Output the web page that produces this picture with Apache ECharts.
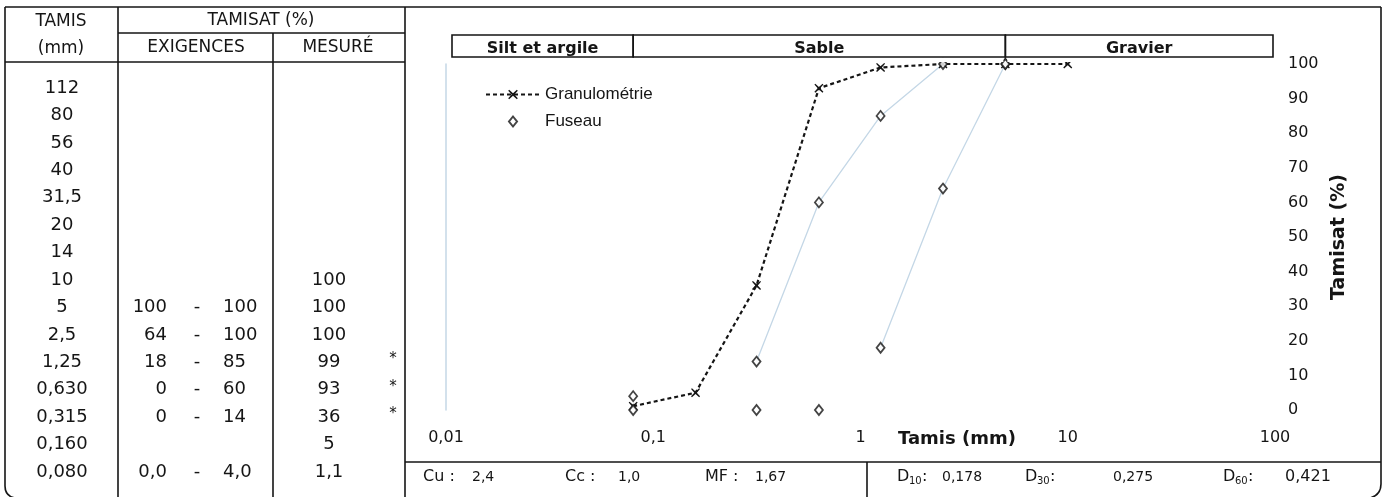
<!DOCTYPE html>
<html>
<head>
<meta charset="utf-8">
<script src="https://cdn.jsdelivr.net/npm/echarts@6/dist/echarts.min.js"></script>
<style>
html,body{margin:0;padding:0;background:#fff;}
#c{width:1384px;height:497px;}
</style>
</head>
<body>
<div id="c"></div>
<script>
// ---------- DATA ----------
const tamisLabels = ['112','80','56','40','31,5','20','14','10','5','2,5','1,25','0,630','0,315','0,160','0,080'];
const exigMin     = ['','','','','','','','','100','64','18','0','0','','0,0'];
const exigMax     = ['','','','','','','','','100','100','85','60','14','','4,0'];
const mesure      = ['','','','','','','','100','100','100','99','93','36','5','1,1'];
const horsFuseau  = [false,false,false,false,false,false,false,false,false,false,true,true,true,false,false];
const zoneNames   = ['Silt et argile','Sable','Gravier'];
const zoneFrom    = [0.01, 0.08, 5];
const zoneTo      = [0.08, 5, 100];
const coefNames   = ['Cu','Cc','MF'];
const coefValues  = ['2,4','1,0','1,67'];
const dNames      = ['10','30','60'];
const dValues     = ['0,178','0,275','0,421'];
// faint envelope segments (sieve sizes kept on each envelope line)
const upperSpan   = [0.315, 2.5];
const lowerSpan   = [1.25, 5];

const num = s => parseFloat(String(s).replace(',', '.'));
const sizes = tamisLabels.map(num);

const granuData = [];
const fuseauData = [];
const upperLine = [];
const lowerLine = [];
sizes.forEach((s, i) => {
  if (mesure[i] !== '') granuData.push([s, num(mesure[i])]);
  if (exigMin[i] !== '') {
    fuseauData.push([s, num(exigMin[i])]);
    fuseauData.push([s, num(exigMax[i])]);
    if (s >= upperSpan[0] && s <= upperSpan[1]) upperLine.push([s, num(exigMax[i])]);
    if (s >= lowerSpan[0] && s <= lowerSpan[1]) lowerLine.push([s, num(exigMin[i])]);
  }
});
upperLine.sort((a,b)=>a[0]-b[0]);
lowerLine.sort((a,b)=>a[0]-b[0]);
granuData.sort((a,b)=>a[0]-b[0]);

// ---------- STYLE ----------
const FONT = "'DejaVu Sans', Verdana, sans-serif";
const INK = '#151515';
const FAINT = '#c4d7e6';
const XSYM = 'path://M1,0 L5,3.6 L9,0 L10,1 L6.4,5 L10,9 L9,10 L5,6.4 L1,10 L0,9 L3.6,5 L0,1 Z';
const LEG_DIAMOND = 'path://M0,5 L0.01,5 M27,0 L31,5 L27,10 L23,5 Z M53.99,5 L54,5';

const chart = echarts.init(document.getElementById('c'), null, {renderer: 'canvas'});

const option = {
  animation: false,
  backgroundColor: '#fff',
  grid: {left: 446, right: 109, top: 64, bottom: 87},
  legend: {
    data: ['Granulométrie', {name: 'Fuseau', icon: LEG_DIAMOND}],
    orient: 'vertical',
    left: 480, top: 81,
    itemWidth: 54, itemHeight: 12, itemGap: 10,
    textStyle: {fontFamily: "'Liberation Sans', Arial, sans-serif", fontSize: 17, color: INK},
    selectedMode: false
  },
  xAxis: {
    type: 'log', logBase: 10, min: 0.01, max: 100,
    axisLine: {show: false}, axisTick: {show: false}, splitLine: {show: false},
    axisLabel: {
      margin: 20, fontFamily: FONT, fontSize: 16, color: INK,
      formatter: v => String(+(+v).toPrecision(6)).replace('.', ',')
    }
  },
  yAxis: [
    {
      type: 'value', position: 'right', min: 0, max: 100, interval: 10,
      axisLine: {show: false}, axisTick: {show: false}, splitLine: {show: false},
      axisLabel: {margin: 13, fontFamily: FONT, fontSize: 16, color: INK, align: 'left'},
      name: 'Tamisat (%)', nameLocation: 'middle', nameGap: 46, nameRotate: 90,
      nameTextStyle: {fontFamily: FONT, fontSize: 19, fontWeight: 'bold', color: INK}
    },
    {
      type: 'value', position: 'left', min: 0, max: 100,
      axisLine: {show: true, lineStyle: {color: FAINT, width: 1.5}},
      axisTick: {show: false}, axisLabel: {show: false}, splitLine: {show: false}
    }
  ],
  series: [
    {
      name: 'envSup', type: 'line', data: upperLine, symbol: 'none', silent: true,
      lineStyle: {color: FAINT, width: 1.3}, z: 1
    },
    {
      name: 'envInf', type: 'line', data: lowerLine, symbol: 'none', silent: true,
      lineStyle: {color: FAINT, width: 1.3}, z: 1
    },
    {
      name: 'Granulométrie', type: 'line', data: granuData,
      symbol: XSYM, symbolSize: 9,
      itemStyle: {color: INK},
      lineStyle: {color: INK, width: 2.2, type: [4, 3]},
      z: 3
    },
    {
      name: 'Fuseau', type: 'scatter', data: fuseauData,
      symbol: 'diamond', symbolSize: [8, 10],
      itemStyle: {color: '#fff', borderColor: INK, borderWidth: 1.8},
      z: 4
    }
  ]
};
chart.setOption(option);

// ---------- TABLE / FRAME GRAPHICS ----------
const g = [];
const LW = 1.6;
function line(x1, y1, x2, y2, w) {
  g.push({type: 'line', shape: {x1, y1, x2, y2}, style: {stroke: INK, lineWidth: w || LW}, z: 10, silent: true});
}
function curve(x1, y1, cx, cy, x2, y2) {
  g.push({type: 'bezierCurve', shape: {x1, y1, cpx1: cx, cpy1: cy, x2, y2}, style: {stroke: INK, fill: null, lineWidth: LW}, z: 10, silent: true});
}
function text(t, x, y, opt) {
  opt = opt || {};
  g.push({type: 'text', x, y, silent: true, z: 11, style: {
    text: t, fill: INK, font: (opt.weight || 'normal') + ' ' + (opt.size || 18) + 'px ' + (opt.family || FONT),
    textAlign: opt.align || 'center', textVerticalAlign: opt.valign || 'middle'
  }});
}

// outer frame
line(5, 7, 1381, 7);
line(5, 7, 5, 486);
curve(5, 486, 5, 496, 15, 498);
line(1381, 7, 1381, 484);
curve(1381, 484, 1381, 495, 1370, 498);
line(118, 7, 118, 497);
line(273, 33, 273, 497);
line(405, 7, 405, 497);
line(118, 33, 405, 33, 1.3);
line(5, 62, 405, 62);
line(405, 462, 1381, 462);
line(867, 462, 867, 497);

// header
text('TAMIS', 61, 22, {size: 17});
text('(mm)', 61, 49, {size: 17});
text('TAMISAT (%)', 261, 21, {size: 17});
text('EXIGENCES', 196, 48, {size: 17});
text('MESURÉ', 338, 48, {size: 17});

// body rows
const rowTop = 88, rowStep = 27.43;
tamisLabels.forEach((t, i) => {
  const y = rowTop + i * rowStep;
  text(t, 62, y, {size: 18});
  if (exigMin[i] !== '') {
    text(exigMin[i], 167, y, {size: 18, align: 'right'});
    text('-', 197, y, {size: 18});
    text(exigMax[i], 223, y, {size: 18, align: 'left'});
  }
  if (mesure[i] !== '') text(mesure[i], 329, y, {size: 18});
  if (horsFuseau[i]) text('*', 393, y - 3, {size: 15});
});

// bottom info row
const by = 477;
const coefX = [[423, 472], [565, 618], [705, 755]];
coefNames.forEach((n, i) => {
  text(n + ' :', coefX[i][0], by, {size: 16, align: 'left'});
  text(coefValues[i], coefX[i][1], by, {size: 14, align: 'left'});
});
const dX = [[897, 942], [1025, 1113], [1223, 1285]];
dNames.forEach((n, i) => {
  text('D', dX[i][0], by, {size: 16, align: 'left'});
  text(n, dX[i][0] + 12, by + 4, {size: 10, align: 'left'});
  text(':', dX[i][0] + 25, by, {size: 16, align: 'left'});
  text(dValues[i], dX[i][1], by, {size: i === 2 ? 16 : 14, align: 'left'});
});

// x axis name
text('Tamis (mm)', 898, 439, {size: 18, weight: 'bold', align: 'left'});

// zone boxes on top, aligned to the log axis
zoneNames.forEach((n, i) => {
  const x1 = chart.convertToPixel({xAxisIndex: 0}, zoneFrom[i]) + (i === 0 ? 6 : 0);
  const x2 = chart.convertToPixel({xAxisIndex: 0}, zoneTo[i]) - (i === 2 ? 2 : 0);
  g.push({type: 'rect', silent: true, z: 10, shape: {x: x1, y: 35, width: x2 - x1, height: 22},
    style: {fill: null, stroke: INK, lineWidth: LW}});
  text(n, (x1 + x2) / 2, 57, {size: 16, weight: 'bold', valign: 'bottom'});
  g.push({type: 'rect', silent: true, z: 12, shape: {x: x1 + 2, y: 58, width: x2 - x1 - 4, height: 4},
    style: {fill: '#fff'}});
});

chart.setOption({graphic: g});
</script>
</body>
</html>
